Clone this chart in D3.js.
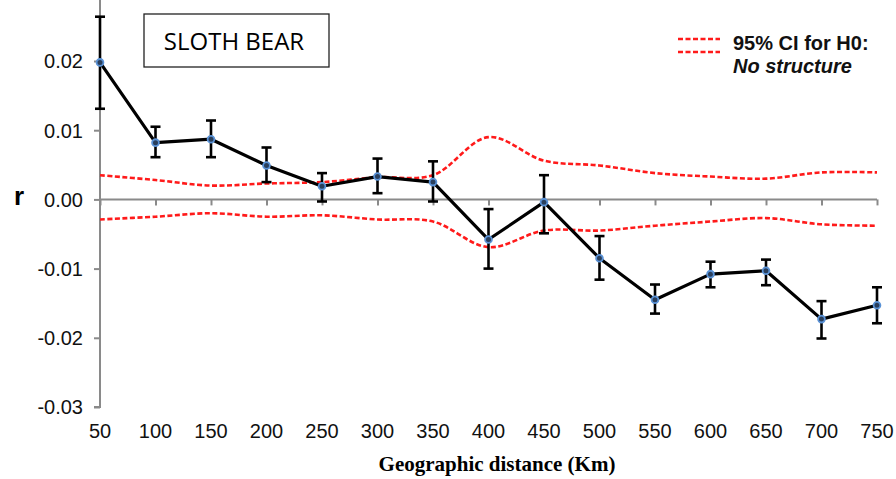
<!DOCTYPE html>
<html>
<head>
<meta charset="utf-8">
<script src="https://cdn.jsdelivr.net/npm/d3@7"></script>
<style>
  html, body { margin: 0; padding: 0; background: #fff; }
  svg { display: block; }
</style>
</head>
<body>
<svg id="chart" width="896" height="479"></svg>
<script>
// Distance classes (km)
const distances = [50, 100, 150, 200, 250, 300, 350, 400, 450, 500, 550, 600, 650, 700, 750];
// Autocorrelation coefficient r per distance class
const rValues = [0.0198, 0.0082, 0.0087, 0.0049, 0.0019, 0.0033, 0.0025, -0.0058, -0.0004, -0.0085, -0.0145, -0.0108, -0.0103, -0.0173, -0.0153];
// Bootstrap error bar limits
const rUpper = [0.0264, 0.0105, 0.0114, 0.0075, 0.0038, 0.0059, 0.0055, -0.0014, 0.0035, -0.0053, -0.0123, -0.0090, -0.0087, -0.0147, -0.0127];
const rLower = [0.0131, 0.0061, 0.0061, 0.0025, -0.0003, 0.0009, -0.0003, -0.0100, -0.0049, -0.0116, -0.0165, -0.0127, -0.0124, -0.0201, -0.0179];
// 95% confidence envelope under the null hypothesis
const ciUpper = [0.0035, 0.0028, 0.0020, 0.0023, 0.0025, 0.0032, 0.0035, 0.0090, 0.0056, 0.0049, 0.0038, 0.0033, 0.0030, 0.0039, 0.0039];
const ciLower = [-0.0029, -0.0025, -0.0020, -0.0025, -0.0023, -0.0029, -0.0032, -0.0069, -0.0045, -0.0045, -0.0038, -0.0032, -0.0027, -0.0036, -0.0038];
// Axis tick values
const yTicks = [-0.03, -0.02, -0.01, 0.00, 0.01, 0.02];
const yTickLabels = ["-0.03", "-0.02", "-0.01", "0.00", "0.01", "0.02"];

const svg = d3.select("#chart");
const x = d3.scaleLinear().domain([50, 750]).range([100, 877]);
const y = d3.scaleLinear().domain([-0.03, 0.03]).range([407, -8.2]);

const axisColor = "#8a8a8a";
const sans = "'Liberation Sans', Arial, sans-serif";

// Vertical axis
const yAxis = svg.append("g")
  .attr("transform", `translate(${x(50)},0)`)
  .call(d3.axisLeft(y).tickValues(yTicks).tickSize(6).tickFormat((d, i) => yTickLabels[i]));
yAxis.select(".domain").attr("stroke", axisColor).attr("stroke-width", 2).attr("d", `M-6,${y(-0.03)}H0V${y(0.03)}`);
yAxis.selectAll(".tick line").attr("stroke", axisColor).attr("stroke-width", 2);
yAxis.selectAll(".tick text")
  .attr("x", -17).attr("dy", "0.34em")
  .attr("fill", "#111").style("font-family", sans).style("font-size", "20px");

// Horizontal zero line with ticks
const xAxis = svg.append("g")
  .attr("transform", `translate(0,${y(0)})`)
  .call(d3.axisBottom(x).tickValues(distances).tickSize(6).tickFormat(""));
xAxis.select(".domain").attr("stroke", axisColor).attr("stroke-width", 2).attr("d", `M${x(50)},0H${x(750)}`);
xAxis.selectAll(".tick line").attr("stroke", axisColor).attr("stroke-width", 2);

// Distance labels along the bottom
svg.append("g").selectAll("text")
  .data(distances).join("text")
  .attr("x", d => x(d)).attr("y", 438)
  .attr("text-anchor", "middle")
  .attr("fill", "#111").style("font-family", sans).style("font-size", "20px")
  .text(d => d);

// Null-hypothesis envelope
const ciLine = d3.line().x((d, i) => x(distances[i])).y(d => y(d)).curve(d3.curveCatmullRom.alpha(0.5));
[ciUpper, ciLower].forEach(series => {
  svg.append("path")
    .attr("d", ciLine(series))
    .attr("fill", "none").attr("stroke", "#ff1a1a").attr("stroke-width", 2.6)
    .attr("stroke-dasharray", "5,2.5");
});

// Mean r line
const rLine = d3.line().x((d, i) => x(distances[i])).y(d => y(d));
svg.append("path")
  .attr("d", rLine(rValues))
  .attr("fill", "none").attr("stroke", "#000").attr("stroke-width", 3.2).attr("stroke-linejoin", "round");

// Error bars
const bars = svg.append("g").attr("stroke", "#000").attr("stroke-width", 2.6);
distances.forEach((d, i) => {
  const cx = x(d);
  bars.append("line").attr("x1", cx).attr("x2", cx).attr("y1", y(rUpper[i])).attr("y2", y(rLower[i]));
  bars.append("line").attr("x1", cx - 5).attr("x2", cx + 5).attr("y1", y(rUpper[i])).attr("y2", y(rUpper[i]));
  bars.append("line").attr("x1", cx - 5).attr("x2", cx + 5).attr("y1", y(rLower[i])).attr("y2", y(rLower[i]));
});

// Point markers
const pts = svg.append("g");
pts.selectAll("circle.m").data(rValues).join("circle")
  .attr("class", "m")
  .attr("cx", (d, i) => x(distances[i])).attr("cy", d => y(d))
  .attr("r", 3.4).attr("fill", "#2a3f5c").attr("stroke", "#5a92d6").attr("stroke-width", 1.8);

// Axis title "r"
svg.append("text")
  .attr("x", 19).attr("y", 205).attr("text-anchor", "middle")
  .style("font-family", sans).style("font-weight", "bold").style("font-size", "26px")
  .attr("fill", "#000").text("r");

// X axis title
svg.append("text")
  .attr("x", 497).attr("y", 471).attr("text-anchor", "middle")
  .style("font-family", "'Liberation Serif', 'Times New Roman', serif").style("font-weight", "bold").style("font-size", "21px")
  .attr("fill", "#000").text("Geographic distance (Km)");

// Species title box
svg.append("rect")
  .attr("x", 144).attr("y", 14).attr("width", 185).attr("height", 53)
  .attr("fill", "#fff").attr("stroke", "#222").attr("stroke-width", 1.3);
svg.append("text")
  .attr("x", 234).attr("y", 50).attr("text-anchor", "middle")
  .style("font-family", "'Open Sans', 'Noto Sans', sans-serif").style("font-size", "24px")
  .attr("fill", "#000").text("SLOTH BEAR");

// Legend
const lg = svg.append("g");
[39, 52].forEach(ly => {
  lg.append("line").attr("x1", 678).attr("x2", 720).attr("y1", ly).attr("y2", ly)
    .attr("stroke", "#ff1a1a").attr("stroke-width", 2.6).attr("stroke-dasharray", "5,2.5");
});
lg.append("text").attr("x", 733).attr("y", 50)
  .style("font-family", sans).style("font-weight", "bold").style("font-size", "20px")
  .attr("fill", "#111").text("95% CI for H0:");
lg.append("text").attr("x", 733).attr("y", 73)
  .style("font-family", sans).style("font-weight", "bold").style("font-style", "italic").style("font-size", "20px")
  .attr("fill", "#111").text("No structure");
</script>
</body>
</html>
